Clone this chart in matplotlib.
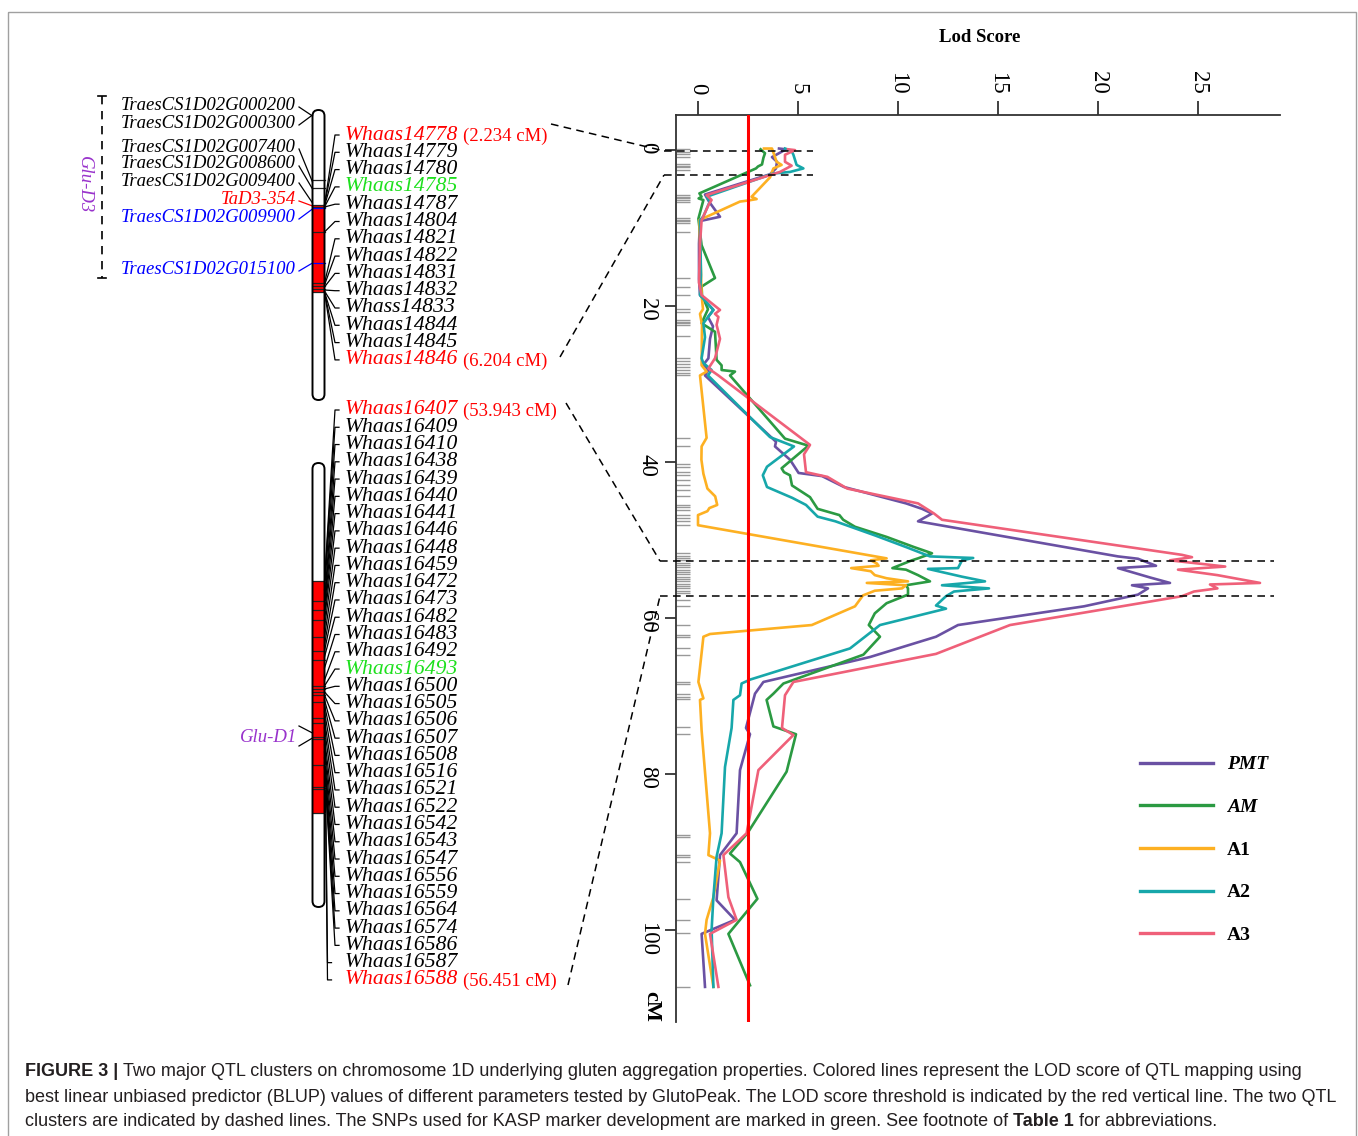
import matplotlib
matplotlib.use("Agg")
import matplotlib.pyplot as plt
from matplotlib.patches import FancyBboxPatch, Rectangle
from matplotlib.lines import Line2D

# ---------------------------------------------------------------- data
series_names = ["PMT", "AM", "A1", "A2", "A3"]
series_colors = ["#6A51A3", "#2B9A42", "#FDB022", "#17A7AA", "#EF6079"]

pmt_cm = [-0.2, -0.1, 0.9, 1.5, 2.35, 3.1, 5.7, 6.6, 8.55, 9.1, 12.0, 16.5, 18.6, 20.5, 21.4,
          22.6, 24.2, 26.7, 27.5, 28.2, 28.9, 37.4, 38.0, 39.7, 41.4, 41.8, 43.2, 45.3, 46.0,
          46.6, 47.6, 52.1, 52.4, 53.3, 53.6, 54.8, 55.5, 55.8, 56.2, 57.0, 58.5, 60.9, 62.4,
          65.0, 68.2, 69.7, 74.1, 74.9, 79.5, 87.6, 90.4, 96.2, 98.7, 100.5, 107.3]
pmt_lod = [4.05, 4.4, 3.7, 3.95, 3.9, 3.6, 0.35, 0.55, 1.1, 0.1, 0.05, 0.05, 0.1, 0.77, 0.5,
           0.75, 0.6, 0.52, 0.27, 0.52, 0.35, 3.9, 3.85, 4.6, 5.03, 6.2, 7.3, 10.4, 11.2,
           11.7, 11.0, 21.0, 22.0, 22.9, 21.0, 22.6, 23.6, 21.7, 22.5, 22.0, 19.3, 13.0, 11.9,
           8.6, 3.27, 2.85, 2.4, 2.6, 2.1, 1.93, 1.1, 0.93, 1.85, 0.18, 0.35]

am_cm = [-0.1, 0.4, 1.0, 1.84, 2.1, 2.35, 5.55, 5.98, 6.2, 6.4, 8.8, 12.2, 16.4, 17.5, 18.6,
         20.4, 22.2, 23.3, 26.9, 27.6, 28.2, 28.4, 28.9, 37.0, 37.9, 40.8, 41.3, 41.7, 43.0,
         44.5, 46.0, 46.8, 47.4, 48.3, 49.6, 50.9, 51.7, 52.35, 52.6, 53.6, 53.8, 54.5, 55.3,
         55.8, 56.2, 57.0, 58.1, 59.4, 60.9, 62.4, 64.7, 68.4, 69.7, 70.5, 73.9, 74.9, 79.7,
         87.6, 90.2, 91.3, 96.0, 100.5, 107.1]
am_lod = [3.13, 3.35, 3.27, 3.2, 3.0, 2.9, 0.07, 0.18, 0.03, 0.27, 0.02, 0.18, 0.85, 0.18, 0.2,
          0.5, 0.18, 0.85, 0.93, 1.18, 1.18, 1.85, 1.6, 4.35, 5.52, 4.18, 4.3, 4.6, 4.7,
          5.6, 5.98, 7.07, 7.26, 7.85, 9.43, 10.8, 11.7, 11.0, 10.7, 9.72, 10.4, 11.0, 11.6,
          10.4, 10.5, 10.5, 9.43, 8.84, 8.54, 9.1, 8.27, 4.27, 3.77, 3.43, 3.77, 4.9, 4.43,
          2.47, 1.6, 2.1, 2.97, 1.52, 2.6]

a1_cm = [-0.2, -0.2, 1.5, 1.9, 2.35, 3.5, 5.98, 6.28, 6.46, 6.6, 8.97, 18.6, 20.4, 21.0, 22.4,
         27.6, 28.4, 28.9, 36.9, 38.0, 39.7, 41.5, 43.4, 44.4, 45.5, 45.9, 46.3, 46.8, 48.1,
         52.35, 52.6, 53.0, 53.3, 53.6, 54.0, 54.5, 54.9, 55.3, 55.5, 55.8, 56.2, 56.5, 57.1,
         58.5, 60.9, 62.05, 62.4, 68.2, 70.3, 70.5, 74.4, 87.6, 90.4, 91.1, 95.8, 98.7, 100.5,
         107.3]
a1_lod = [3.3, 3.7, 3.93, 4.18, 3.77, 3.6, 2.68, 2.93, 2.52, 2.1, 0.07, 0.18, 0.25, 0.1, 0.2,
          0.18, 0.43, 0.1, 0.43, 0.18, 0.17, 0.27, 0.47, 0.86, 0.96, 0.57, 0.47, 0.0, 0.0,
          9.43, 8.64, 8.94, 9.03, 7.66, 8.64, 8.84, 9.43, 10.5, 8.44, 10.4, 10.2, 8.84, 8.25,
          7.85, 5.69, 0.6, 0.27, 0.02, 0.27, 0.1, 0.18, 0.6, 0.52, 1.1, 0.77, 0.43, 0.35,
          0.77]

a2_cm = [-0.2, 0.1, 0.6, 1.9, 2.35, 2.8, 3.0, 5.98, 6.6, 7.0, 8.5, 9.0, 16.0, 18.6, 20.5,
         22.2, 24.0, 26.7, 27.3, 28.2, 28.9, 36.8, 38.0, 40.6, 41.7, 43.2, 44.6, 45.5, 47.0,
         47.6, 49.4, 50.9, 52.1, 52.3, 52.6, 53.6, 53.7, 54.7, 55.3, 55.8, 56.2, 56.6, 57.2,
         58.4, 58.8, 60.9, 63.9, 67.9, 68.4, 69.9, 70.5, 74.1, 79.1, 87.6, 90.6, 95.8, 100.0,
         107.3]
a2_lod = [4.35, 4.68, 4.77, 4.93, 5.27, 4.6, 3.77, 0.43, 0.6, 0.52, 0.27, 0.1, 0.15, 0.1, 0.77,
          0.27, 0.35, 0.18, 0.27, 0.68, 0.5, 3.6, 4.8, 3.45, 3.24, 3.45, 4.72, 5.4, 5.98,
          6.87, 8.84, 10.4, 11.6, 13.76, 13.2, 13.0, 11.5, 13.2, 14.35, 12.2, 14.55, 12.8, 12.4,
          11.9, 12.4, 9.1, 7.6, 2.6, 2.18, 2.1, 1.77, 1.68, 1.35, 1.18, 0.93, 0.77, 0.68,
          0.77]

a3_cm = [-0.1, 0.0, 0.6, 1.5, 2.0, 2.8, 5.77, 6.4, 6.9, 9.0, 12.0, 17.0, 18.6, 20.5, 21.0,
         21.4, 22.4, 24.2, 26.7, 28.0, 28.9, 37.8, 39.0, 41.3, 41.9, 43.4, 45.3, 46.6, 47.4,
         51.9, 52.2, 52.6, 53.4, 53.8, 54.5, 55.5, 55.7, 56.2, 56.6, 57.2, 60.9, 64.6, 68.2,
         69.9, 74.1, 75.0, 79.5, 87.6, 90.4, 95.8, 98.7, 100.5, 107.3]
a3_lod = [4.5, 4.85, 4.35, 4.35, 4.68, 4.1, 0.43, 0.68, 0.55, 0.18, 0.1, 0.05, 0.18, 1.1, 0.85,
          1.02, 0.93, 1.1, 0.85, 0.52, 1.02, 5.6, 5.3, 5.4, 6.47, 7.46, 11.0, 11.8, 12.2,
          24.2, 24.7, 23.6, 26.36, 24.0, 25.97, 28.1, 25.6, 25.97, 24.8, 24.2, 15.6, 11.9, 4.77,
          4.35, 4.2, 4.77, 3.02, 2.43, 1.27, 1.52, 1.93, 0.6, 1.02]

marker_cm = [-0.1, 0.2, 0.5, 0.9, 1.8, 2.0, 2.2, 2.5, 5.8, 6.0, 6.2, 6.4, 6.6, 8.7, 8.9, 9.1,
             9.3, 10.5, 16.4, 17.5, 18.6, 20.4, 20.7, 21.8, 22.0, 22.2, 22.4, 23.9, 26.7, 27.1,
             27.4, 27.8, 28.2, 28.6, 28.9, 36.9, 37.9, 40.2, 40.6, 41.3, 41.7, 42.3, 42.9, 43.6,
             44.4, 45.5, 45.8, 46.2, 46.8, 47.2, 47.6, 48.1, 51.7, 52.0, 52.3, 52.6, 52.9, 53.2,
             53.5, 53.8, 54.1, 54.4, 54.7, 55.0, 55.3, 55.6, 55.9, 56.2, 56.5, 56.8, 57.7, 58.5,
             60.9, 62.2, 62.4, 63.9, 64.7, 68.2, 68.4, 69.7, 70.1, 70.4, 74.0, 74.9, 87.8, 88.1,
             90.4, 90.6, 91.3, 96.0, 98.7, 100.4, 107.3]

lod_ticks = [0, 5, 10, 15, 20, 25]
cm_ticks = [0, 20, 40, 60, 80, 100]
lod_threshold = 2.5
cluster1_cm = [0.1, 3.2]
cluster2_cm = [52.7, 57.2]

# chromosome 1 (physical map, drawn in figure pixels)
chr1_left_names = ["TraesCS1D02G000200", "TraesCS1D02G000300", "TraesCS1D02G007400",
                   "TraesCS1D02G008600", "TraesCS1D02G009400", "TaD3-354",
                   "TraesCS1D02G009900", "TraesCS1D02G015100"]
chr1_left_colors = ["black", "black", "black", "black", "black", "red", "blue", "blue"]
chr1_left_pos = [116, 115, 182, 189, 203, 206, 209, 263]
chr1_right_names = ["Whaas14778", "Whaas14779", "Whaas14780", "Whaas14785", "Whaas14787",
                    "Whaas14804", "Whaas14821", "Whaas14822", "Whaas14831", "Whaas14832",
                    "Whass14833", "Whaas14844", "Whaas14845", "Whaas14846"]
chr1_right_colors = ["red", "black", "black", "#1EE01E", "black", "black", "black", "black",
                     "black", "black", "black", "black", "black", "red"]
chr1_right_notes = {0: "(2.234 cM)", 13: "(6.204 cM)"}
chr1_right_pos = [205, 205, 206, 207, 207, 232, 283, 285, 287, 290, 291, 292, 292, 292]
chr1_bands = [180, 188, 205, 207, 232, 283, 286, 289, 292]
chr1_blue_bands = [208, 263]
chr1_red = [205, 292]
chr1_span = [110, 400]

chr2_names = ["Whaas16407", "Whaas16409", "Whaas16410", "Whaas16438", "Whaas16439",
              "Whaas16440", "Whaas16441", "Whaas16446", "Whaas16448", "Whaas16459",
              "Whaas16472", "Whaas16473", "Whaas16482", "Whaas16483", "Whaas16492",
              "Whaas16493", "Whaas16500", "Whaas16505", "Whaas16506", "Whaas16507",
              "Whaas16508", "Whaas16516", "Whaas16521", "Whaas16522", "Whaas16542",
              "Whaas16543", "Whaas16547", "Whaas16556", "Whaas16559", "Whaas16564",
              "Whaas16574", "Whaas16586", "Whaas16587", "Whaas16588"]
chr2_colors = ["red"] + ["black"] * 14 + ["#1EE01E"] + ["black"] * 17 + ["red"]
chr2_notes = {0: "(53.943 cM)", 33: "(56.451 cM)"}
chr2_pos = [581, 583, 590, 601, 605, 610, 615, 620, 628, 637, 645, 651, 657, 668, 680,
            686, 689, 692, 695, 700, 705, 712, 720, 728, 738, 745, 752, 758, 763, 767,
            767, 768, 700, 705]
chr2_bands = [581, 601, 610, 620, 637, 651, 660, 686, 689, 692, 695, 702, 718, 723, 737, 739,
              765, 787, 789, 813]
chr2_red = [581, 813]
chr2_span = [463, 907]

caption_lines = [
    [("FIGURE 3 |", "bold"), ("Two major QTL clusters on chromosome 1D underlying gluten aggregation properties. Colored lines represent the LOD score of QTL mapping using", "normal")],
    [("best linear unbiased predictor (BLUP) values of different parameters tested by GlutoPeak. The LOD score threshold is indicated by the red vertical line. The two QTL", "normal")],
    [("clusters are indicated by dashed lines. The SNPs used for KASP marker development are marked in green. See footnote of", "normal"),
     ("Table 1", "bold"), ("for abbreviations.", "normal")],
]

# ---------------------------------------------------------------- figure
W, H, DPI = 1358, 1136, 100
SERIF = "Liberation Serif"
SANS = "Liberation Sans"
plt.rcParams["font.family"] = SERIF

fig = plt.figure(figsize=(W / DPI, H / DPI), dpi=DPI)
fig.patch.set_facecolor("white")
cv = fig.add_axes([0, 0, 1, 1], zorder=0)
cv.set_xlim(0, W)
cv.set_ylim(H, 0)
cv.axis("off")
renderer = fig.canvas.get_renderer()


def px(size):
    return size * DPI / 72.0


def seq_text(x, y, pieces, size, family, gap_em, color="black"):
    for i, (s, style) in enumerate(pieces):
        if i > 0:
            x += gap_em * px(size)
        t = cv.text(x, y, s, fontsize=size, family=family, ha="left", va="center",
                    color=color, **style)
        x = t.get_window_extent(renderer=renderer).x1
    return x


# border
cv.add_patch(Rectangle((8, 12), 1348, 1200, fill=False, ec="#a0a0a0", lw=1.0))

# ---------------------------------------------------------------- chromosomes
def chromosome(x, span, red, bands, blue_bands):
    w = 12
    cv.add_patch(FancyBboxPatch((x, span[0]), w, span[1] - span[0],
                                boxstyle="round,pad=0,rounding_size=6",
                                fc="white", ec="none", zorder=1))
    cv.add_patch(Rectangle((x, red[0]), w, red[1] - red[0], fc="#FF0000", ec="none", zorder=2))
    for b in bands:
        cv.plot([x, x + w], [b, b], color="#222222", lw=0.9, zorder=3)
    for b in blue_bands:
        cv.plot([x, x + w], [b, b], color="blue", lw=0.9, zorder=3)
    cv.add_patch(FancyBboxPatch((x, span[0]), w, span[1] - span[0],
                                boxstyle="round,pad=0,rounding_size=6",
                                fc="none", ec="black", lw=1.4, zorder=4))


CX = 312.5
chromosome(CX, chr1_span, chr1_red, chr1_bands, chr1_blue_bands)
chromosome(CX, chr2_span, chr2_red, chr2_bands, [])

FS_TRAES = 13.5
FS_WHAAS = 15.6
FS_NOTE = 13.5

# left labels of chromosome 1
left_label_y = [105, 123, 147, 164, 181, 199, 217, 269]
for name, col, pos, ly in zip(chr1_left_names, chr1_left_colors, chr1_left_pos, left_label_y):
    cv.text(296, ly, name, fontsize=FS_TRAES, style="italic", color=col,
            ha="right", va="center")
    cv.plot([299, CX], [ly + 2, pos], color=col, lw=0.9)


def right_labels(names, colors, notes, pos, y0, step, special=()):
    for i, (name, col, p) in enumerate(zip(names, colors, pos)):
        ly = y0 + step * i
        t = cv.text(345, ly, name, fontsize=FS_WHAAS, style="italic", color=col,
                    ha="left", va="center")
        if i in notes:
            xe = t.get_window_extent(renderer=renderer).x1 + 0.25 * px(FS_NOTE)
            cv.text(xe, ly + 1, notes[i], fontsize=FS_NOTE, color=col, ha="left", va="center")
        if i in special:
            cv.plot([CX + 12, CX + 15, CX + 19], [p, ly, ly], color="black", lw=0.9)
        else:
            cv.plot([CX + 12, 335, 339], [p, ly, ly], color="black", lw=0.9)


right_labels(chr1_right_names, chr1_right_colors, chr1_right_notes, chr1_right_pos, 135, 17.3)
right_labels(chr2_names, chr2_colors, chr2_notes, chr2_pos, 410, 17.27, special=(32, 33))

# Glu-D3 bracket
cv.plot([102, 102], [96, 278], color="black", lw=1.2, ls=(0, (5, 4)))
cv.plot([98, 106], [96, 96], color="black", lw=1.2)
cv.plot([98, 106], [278, 278], color="black", lw=1.2)
cv.text(84, 185, "Glu-D3", rotation=-90, fontsize=13.5, style="italic", color="#9933CC",
        ha="center", va="center")
# Glu-D1
cv.text(297, 737, "Glu-D1", fontsize=13.5, style="italic", color="#9933CC", ha="right", va="center")
cv.plot([299, CX], [726, 733], color="black", lw=0.9)
cv.plot([299, CX], [746, 738], color="black", lw=0.9)

# ---------------------------------------------------------------- LOD plot
ax = fig.add_axes([676 / W, 1 - 1022 / H, (1280 - 676) / W, (1022 - 115) / H], zorder=2)
ax.patch.set_alpha(0)
ax.set_xlim(-1.1, 29.1)
ax.set_ylim(111.8, -4.5)
for s in ["right", "bottom"]:
    ax.spines[s].set_visible(False)
for s in ["top", "left"]:
    ax.spines[s].set_linewidth(1.3)
    ax.spines[s].set_color("#333333")
ax.xaxis.tick_top()
ax.set_xticks(lod_ticks)
ax.set_xticklabels([str(v) for v in lod_ticks], rotation=-90, fontsize=16.5)
ax.set_yticks(cm_ticks)
ax.set_yticklabels([str(v) for v in cm_ticks], rotation=-90, fontsize=16.5)
ax.set_yticks(marker_cm, minor=True)
ax.tick_params(axis="x", which="major", direction="out", length=10, width=1.3,
               color="#333333", pad=5)
ax.tick_params(axis="y", which="major", direction="out", length=8, width=1.3,
               color="#333333", pad=5)
ax.tick_params(axis="y", which="minor", direction="in", length=10, width=1.0, color="#999999")

series = [(pmt_cm, pmt_lod), (am_cm, am_lod), (a1_cm, a1_lod), (a2_cm, a2_lod), (a3_cm, a3_lod)]
for (cm, lod), col in zip(series, series_colors):
    ax.plot(lod, cm, color=col, lw=1.9, zorder=3)

ax.axvline(lod_threshold, color="#FF0000", lw=2.2, zorder=5)

dash = (0, (5, 3.5))
for c in cluster1_cm:
    ax.plot([-1.7, 5.75], [c, c], color="black", lw=1.1, ls=dash, clip_on=False, zorder=4)
for c in cluster2_cm:
    ax.plot([-1.9, 28.8], [c, c], color="black", lw=1.1, ls=dash, clip_on=False, zorder=4)


def ax_px(x, y):
    dx, dy = ax.transData.transform((x, y))
    return dx, H - dy


for (fx, fy), (lx, ly) in [((551, 124), (-1.7, cluster1_cm[0])),
                           ((560, 357), (-1.7, cluster1_cm[1])),
                           ((566, 403), (-1.9, cluster2_cm[0])),
                           ((568, 985), (-1.9, cluster2_cm[1]))]:
    ex, ey = ax_px(lx, ly)
    cv.plot([fx, ex], [fy, ey], color="black", lw=1.1, ls=dash)

handles = [Line2D([], [], color=c, lw=2.4) for c in series_colors]
leg = ax.legend(handles, series_names, loc="upper left", bbox_to_anchor=(0.768, 0.2935),
                frameon=False, prop={"family": SERIF, "weight": "bold", "size": 14},
                handlelength=3.76, handletextpad=0.72, labelspacing=1.29,
                borderpad=0, borderaxespad=0)
for t in leg.get_texts()[:2]:
    t.set_fontstyle("italic")

cv.text(980, 37, "Lod Score", fontsize=13.5, weight="bold", ha="center", va="center")
cv.text(651, 1006, "cM", fontsize=16, weight="bold", rotation=-90, ha="center", va="center")

# ---------------------------------------------------------------- caption
probe = cv.text(0, 0, caption_lines[1][0][0], fontsize=12, family=SANS)
wprobe = probe.get_window_extent(renderer=renderer).width
probe.remove()
cap_size = 12 * 1310 / wprobe
for line, y in zip(caption_lines, [1072, 1097, 1122]):
    seq_text(25, y, [(s, {"weight": w}) for s, w in line], cap_size, SANS, 0.278,
             color="#231f20")

fig.savefig("out.png", dpi=DPI)
